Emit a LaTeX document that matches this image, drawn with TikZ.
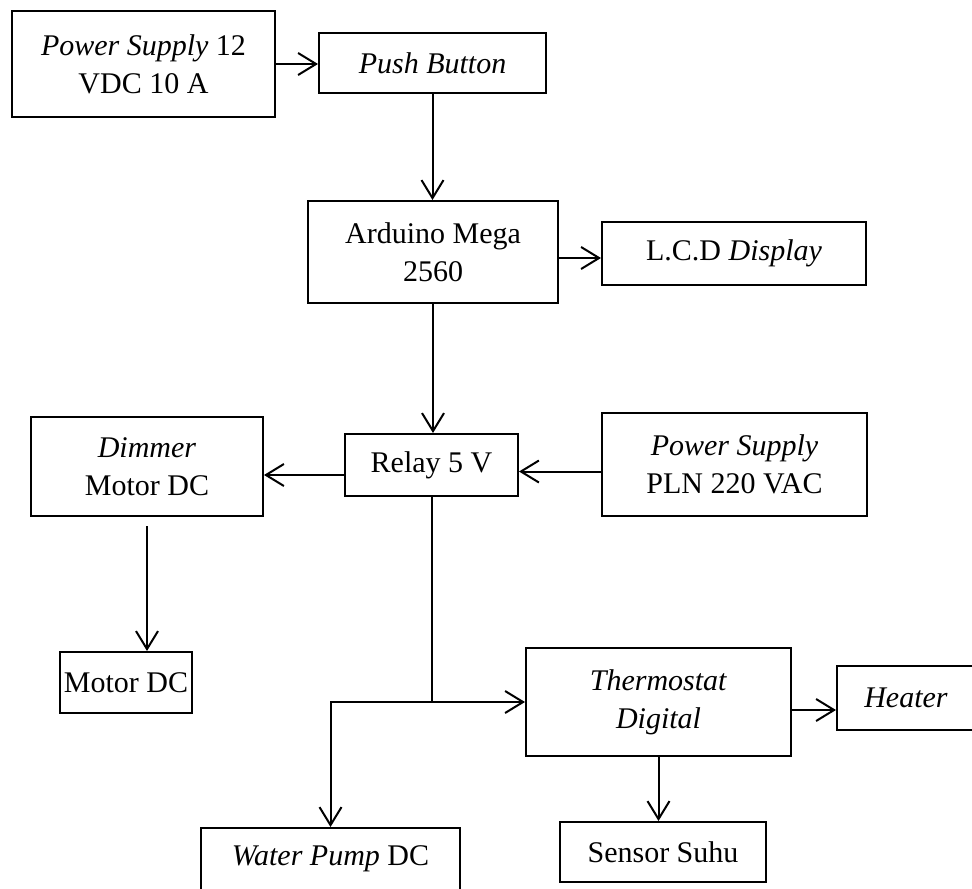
\documentclass[tikz,border=0pt]{standalone}
\usepackage{fontspec}
\setmainfont{Liberation Serif}
\usetikzlibrary{arrows.meta,calc}

\begin{document}
\begin{tikzpicture}[
    x=0.5pt, y=-0.5pt,
    >={Straight Barb[length=9pt,width=11pt]},
    line cap=butt, line join=miter,
    every node/.style={font=\fontsize{15}{19}\selectfont},
    block/.style={draw, line width=1pt, rectangle, align=center, inner sep=2pt},
    flow/.style={line width=1pt, ->},
]
\useasboundingbox (0,0) rectangle (972,888);

% --- Top row: supply and button ---
\node[block, minimum width=131.5pt, minimum height=53pt] (ps12) at (143.5,64)
    {\textit{Power Supply} 12\\VDC 10 A};
\node[block, minimum width=113.5pt, minimum height=30pt] (push) at (432.5,63)
    {\textit{Push Button}};

% --- Controller and display ---
\node[block, minimum width=125pt, minimum height=51pt] (arduino) at (433,252)
    {Arduino Mega\\2560};
\node[block, minimum width=132pt, minimum height=31.5pt] (lcd) at (734,253.5)
    {L.C.D \textit{Display}};

% --- Relay row ---
\node[block, minimum width=116pt, minimum height=49.5pt] (dimmer) at (147,466.5)
    {\textit{Dimmer}\\Motor DC};
\node[block, minimum width=86.5pt, minimum height=31pt] (relay) at (431.5,465)
    {Relay 5 V};
\node[block, minimum width=132.5pt, minimum height=51.5pt] (pln) at (734.5,464.5)
    {\textit{Power Supply}\\PLN 220 VAC};

% --- Loads ---
\node[block, minimum width=65pt, minimum height=30.5pt] (motor) at (126,682.5)
    {Motor DC};
\node[block, minimum width=132.5pt, minimum height=54pt] (thermo) at (658.5,702)
    {\textit{Thermostat}\\\textit{Digital}};
\node[block, minimum width=69pt, minimum height=32pt] (heater) at (906,698)
    {\textit{Heater}};
\node[block, minimum width=129.5pt, minimum height=31pt] (pump) at (330.5,859)
    {\textit{Water Pump} DC};
\node[block, minimum width=103pt, minimum height=30pt] (sensor) at (663,852)
    {Sensor Suhu};

% --- Connectors ---
\draw[flow] (ps12.east) -- (ps12.east -| push.west);
\draw[flow] (push.south) -- (push.south |- arduino.north);
\draw[flow] ([yshift=-3pt]arduino.east) -- ([yshift=-3pt]arduino.east -| lcd.west);
\draw[flow] (arduino.south) -- (arduino.south |- relay.north);
\draw[flow] ([yshift=-3.5pt]pln.west) -- ([yshift=-3.5pt]pln.west -| relay.east);
\draw[flow] ([yshift=-5pt]relay.west) -- ([yshift=-5pt]relay.west -| dimmer.east);
\draw[flow] ([yshift=-4.5pt]dimmer.south) -- (dimmer.south |- motor.north);

% split below the relay
\coordinate (split) at (relay.south |- thermo.west);
\draw[line width=1pt] (relay.south) -- (split);
\draw[flow] (split) -- (thermo.west);
\draw[flow] (split) -- (split -| pump.north) -- (pump.north);

\draw[flow] ([yshift=-4pt]thermo.east) -- ([yshift=-4pt]thermo.east -| heater.west);
\draw[flow] (thermo.south) -- (thermo.south |- sensor.north);

\end{tikzpicture}
\end{document}
